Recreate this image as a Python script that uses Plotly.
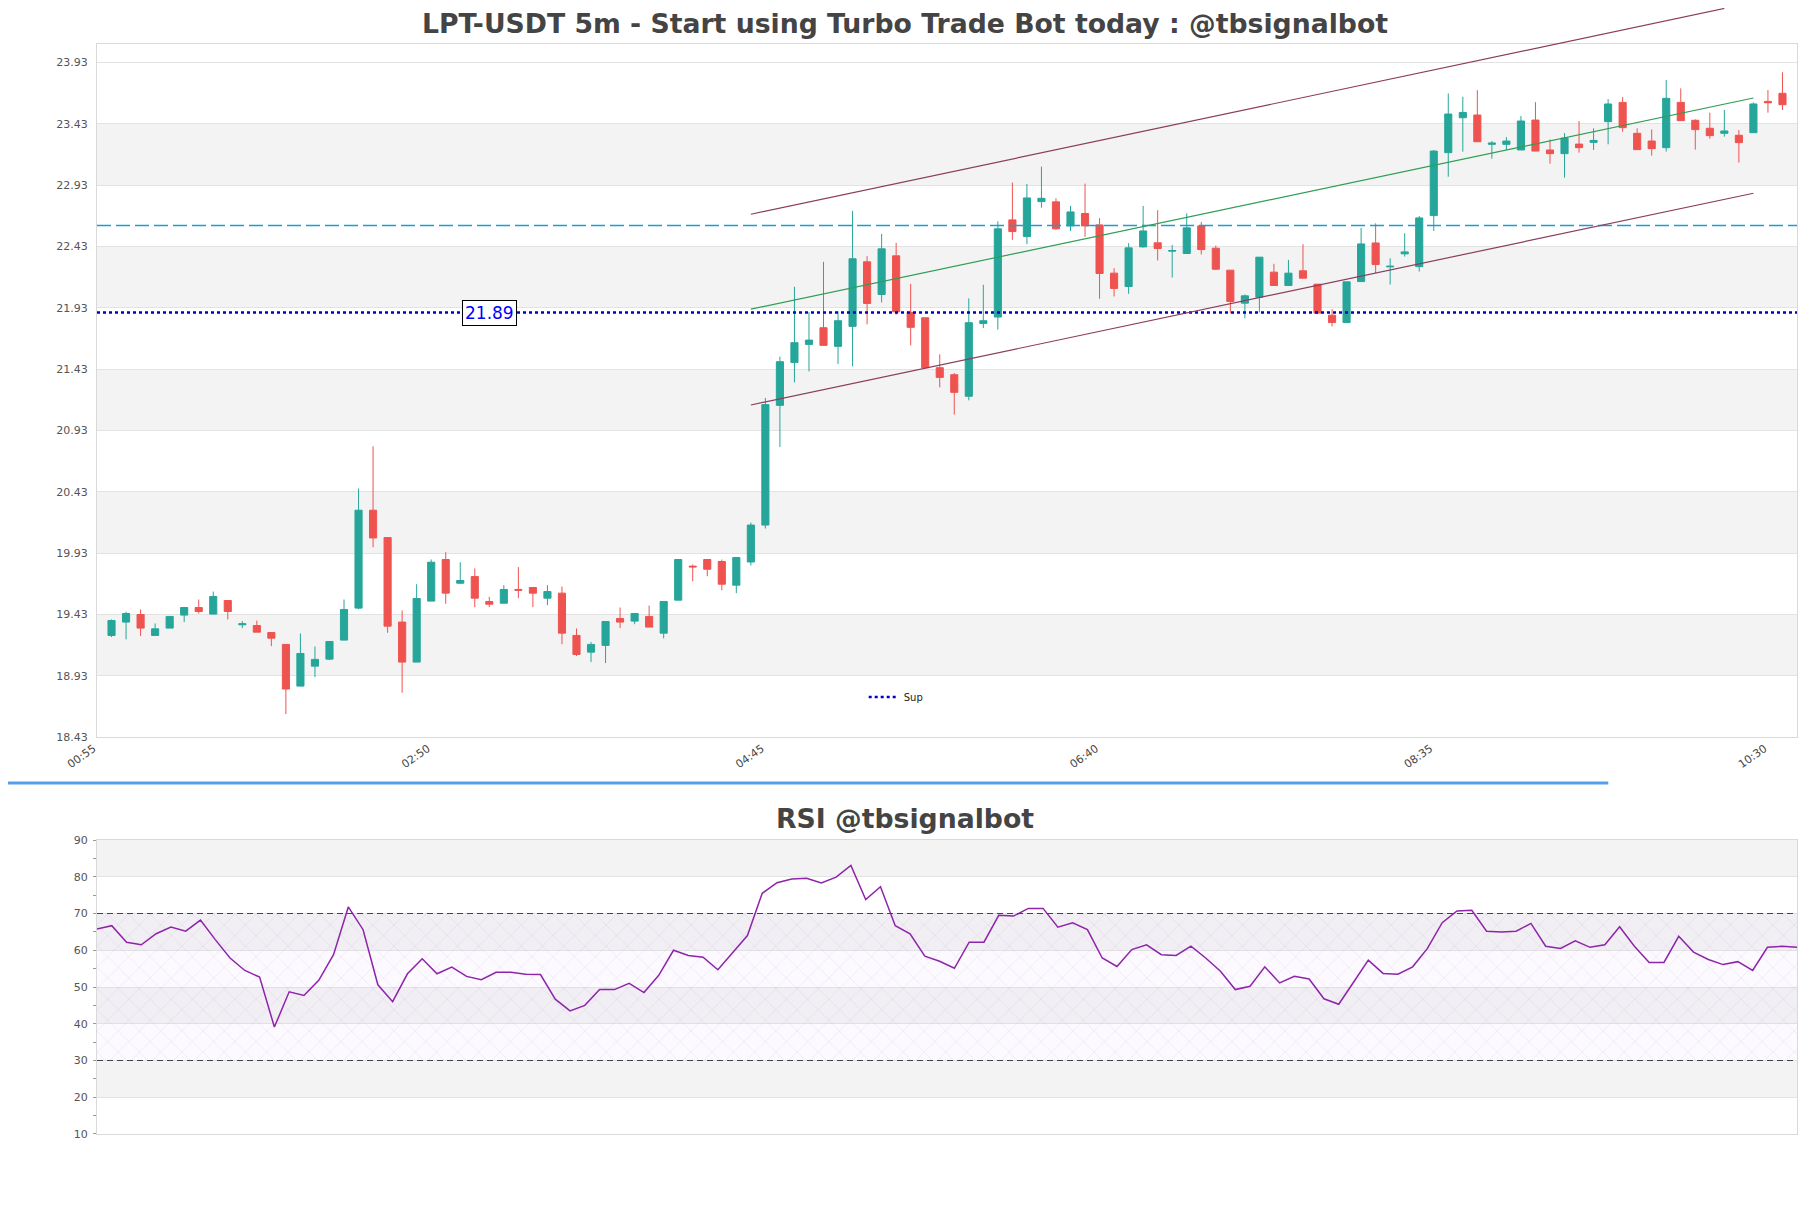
import pandas as pd
import plotly.graph_objects as go

# ---------------- data ----------------
start_time = "2024-01-01 00:55"
n_candles = 116
times = pd.date_range(start_time, periods=n_candles, freq="5min")

opens = [19.258, 19.367, 19.429, 19.258, 19.318, 19.424, 19.486, 19.432, 19.543, 19.345,
         19.339, 19.282, 19.185, 18.845, 19.008, 19.065, 19.220, 19.481, 20.279, 20.056,
         19.367, 19.041, 19.538, 19.877, 19.684, 19.738, 19.535, 19.521, 19.633, 19.649,
         19.562, 19.603, 19.258, 19.122, 19.177, 19.396, 19.375, 19.413, 19.277, 19.546,
         19.823, 19.877, 19.861, 19.668, 19.857, 20.158, 21.134, 21.484, 21.631, 21.767,
         21.615, 21.778, 22.304, 22.038, 22.353, 21.892, 21.848, 21.441, 21.384, 21.208,
         21.802, 21.854, 22.646, 22.511, 22.795, 22.793, 22.597, 22.698, 22.605, 22.212,
         22.103, 22.426, 22.459, 22.391, 22.372, 22.597, 22.415, 22.236, 21.967, 22.016,
         22.220, 22.111, 22.231, 22.122, 21.869, 21.809, 22.143, 22.458, 22.263, 22.369,
         22.265, 22.681, 23.194, 23.479, 23.501, 23.262, 23.262, 23.216, 23.460, 23.216,
         23.186, 23.264, 23.278, 23.447, 23.604, 23.352, 23.289, 23.235, 23.604, 23.458,
         23.393, 23.352, 23.336, 23.357, 23.612, 23.678]
highs = [19.388, 19.451, 19.470, 19.356, 19.413, 19.486, 19.551, 19.616, 19.543, 19.375,
         19.380, 19.282, 19.185, 19.274, 19.168, 19.209, 19.551, 20.455, 20.800, 20.056,
         19.462, 19.676, 19.877, 19.937, 19.855, 19.804, 19.573, 19.668, 19.815, 19.649,
         19.668, 19.657, 19.315, 19.204, 19.372, 19.486, 19.437, 19.502, 19.535, 19.877,
         19.836, 19.877, 19.877, 19.893, 20.178, 21.194, 21.531, 22.101, 21.894, 22.304,
         21.900, 22.720, 22.350, 22.532, 22.459, 22.125, 21.848, 21.550, 21.398, 22.006,
         22.117, 22.635, 22.950, 22.939, 23.080, 22.822, 22.760, 22.942, 22.660, 22.252,
         22.456, 22.760, 22.725, 22.442, 22.700, 22.630, 22.437, 22.236, 22.038, 22.342,
         22.288, 22.320, 22.448, 22.122, 21.918, 22.141, 22.580, 22.618, 22.333, 22.537,
         22.678, 23.216, 23.677, 23.650, 23.704, 23.289, 23.321, 23.492, 23.606, 23.302,
         23.354, 23.452, 23.392, 23.631, 23.648, 23.393, 23.384, 23.786, 23.718, 23.466,
         23.520, 23.542, 23.379, 23.604, 23.705, 23.849]
lows = [19.245, 19.226, 19.253, 19.258, 19.318, 19.367, 19.437, 19.432, 19.388, 19.318,
        19.285, 19.171, 18.617, 18.845, 18.919, 19.057, 19.220, 19.472, 19.977, 19.280,
        18.791, 19.041, 19.538, 19.516, 19.676, 19.489, 19.489, 19.521, 19.562, 19.489,
        19.505, 19.187, 19.090, 19.041, 19.033, 19.318, 19.350, 19.326, 19.234, 19.546,
        19.700, 19.741, 19.627, 19.603, 19.828, 20.130, 20.795, 21.322, 21.411, 21.623,
        21.471, 21.452, 21.794, 21.973, 21.873, 21.623, 21.441, 21.281, 21.058, 21.175,
        21.764, 21.751, 22.483, 22.448, 22.746, 22.565, 22.556, 22.508, 22.003, 22.022,
        22.043, 22.421, 22.315, 22.176, 22.372, 22.364, 22.236, 21.886, 21.843, 21.891,
        22.111, 22.111, 22.171, 21.878, 21.777, 21.809, 22.143, 22.211, 22.119, 22.347,
        22.225, 22.556, 22.998, 23.202, 23.283, 23.145, 23.216, 23.216, 23.207, 23.104,
        22.990, 23.194, 23.216, 23.262, 23.365, 23.219, 23.170, 23.203, 23.455, 23.219,
        23.308, 23.325, 23.113, 23.357, 23.520, 23.542]
closes = [19.380, 19.437, 19.318, 19.312, 19.413, 19.486, 19.453, 19.576, 19.453, 19.353,
          19.285, 19.236, 18.821, 19.111, 19.063, 19.209, 19.470, 20.279, 20.053, 19.334,
          19.041, 19.559, 19.855, 19.603, 19.706, 19.562, 19.513, 19.633, 19.627, 19.603,
          19.616, 19.277, 19.103, 19.185, 19.372, 19.367, 19.437, 19.326, 19.535, 19.877,
          19.817, 19.798, 19.676, 19.893, 20.158, 21.140, 21.490, 21.645, 21.666, 21.623,
          21.824, 22.329, 21.965, 22.410, 21.897, 21.770, 21.441, 21.362, 21.240, 21.808,
          21.824, 22.573, 22.551, 22.825, 22.822, 22.573, 22.711, 22.597, 22.209, 22.087,
          22.418, 22.556, 22.413, 22.396, 22.581, 22.404, 22.244, 21.981, 22.027, 22.342,
          22.111, 22.212, 22.171, 21.886, 21.809, 22.141, 22.450, 22.282, 22.268, 22.385,
          22.662, 23.207, 23.509, 23.522, 23.283, 23.273, 23.289, 23.452, 23.207, 23.186,
          23.313, 23.235, 23.294, 23.591, 23.398, 23.219, 23.227, 23.637, 23.455, 23.382,
          23.333, 23.371, 23.276, 23.591, 23.601, 23.585]

rsi = [65.8, 66.7, 62.2, 61.5, 64.5, 66.3, 65.2, 68.2, 62.9, 57.9,
       54.5, 52.7, 39.1, 48.7, 47.7, 51.8, 58.8, 71.8, 65.6, 50.6,
       46.0, 53.6, 57.7, 53.6, 55.4, 52.9, 52.0, 54.0, 54.0, 53.5,
       53.4, 46.7, 43.5, 45.0, 49.3, 49.3, 51.0, 48.5, 53.2, 60.0,
       58.6, 58.1, 54.7, 59.3, 64.0, 75.5, 78.4, 79.4, 79.6, 78.3,
       79.9, 83.1, 73.8, 77.3, 66.7, 64.5, 58.4, 57.0, 55.1, 62.2,
       62.2, 69.5, 69.3, 71.4, 71.4, 66.3, 67.5, 65.6, 57.9, 55.6,
       60.2, 61.5, 58.8, 58.6, 61.1, 57.9, 54.3, 49.3, 50.2, 55.5,
       51.1, 52.9, 52.2, 46.8, 45.3, 51.3, 57.3, 53.7, 53.5, 55.5,
       60.5, 67.5, 70.7, 70.9, 65.2, 65.0, 65.2, 67.3, 61.1, 60.5,
       62.6, 60.8, 61.5, 66.4, 61.1, 56.7, 56.7, 63.8, 59.5, 57.5,
       56.1, 56.9, 54.5, 60.8, 61.1, 60.8]

support_level = 21.89
resistance_level = 22.60

# channel lines: (start index, end index, start price, end price)
channel_upper = (44, 111, 22.692, 24.37)
channel_mid = (44, 113, 21.918, 23.640)
channel_lower = (44, 113, 21.137, 22.863)

price_ticks = [18.43, 18.93, 19.43, 19.93, 20.43, 20.93, 21.43, 21.93, 22.43, 22.93, 23.43, 23.93]
price_range = [18.43, 24.08]
rsi_ticks = [10, 20, 30, 40, 50, 60, 70, 80, 90]
rsi_levels = [30, 70]
xtick_step = 23

title_text = "LPT-USDT 5m - Start using Turbo Trade Bot today : @tbsignalbot"
rsi_title = "RSI @tbsignalbot"

# ---------------- layout constants ----------------
W, H = 1811, 1208
main_domain = [0.3642, 1.0]
rsi_domain = [0.0, 0.2697]
UP = "#26a69a"
DOWN = "#ef5350"
BAND = "#f3f3f3"
GRID = "#e3e3e3"
AXLINE = "#d9d9d9"
FONT = "DejaVu Sans"

pad = pd.Timedelta(minutes=5)
x_range = [times[0] - pad, times[-1] + pad]

fig = go.Figure()

fig.add_trace(go.Candlestick(
    x=times, open=opens, high=highs, low=lows, close=closes,
    increasing=dict(line=dict(color=UP, width=1), fillcolor=UP),
    decreasing=dict(line=dict(color=DOWN, width=1), fillcolor=DOWN),
    showlegend=False, xaxis="x", yaxis="y", name="LPT-USDT"))

fig.add_trace(go.Scatter(
    x=x_range, y=[support_level, support_level], mode="lines", name="Sup",
    line=dict(color="#0000c8", width=2.5, dash="dot"),
    xaxis="x", yaxis="y", showlegend=True))

# RSI band fill (30-70) with hatch pattern
fig.add_trace(go.Scatter(
    x=[times[0], times[-1]], y=[rsi_levels[0], rsi_levels[0]], mode="lines",
    line=dict(width=0), showlegend=False, xaxis="x2", yaxis="y2", hoverinfo="skip"))
fig.add_trace(go.Scatter(
    x=[times[0], times[-1]], y=[rsi_levels[1], rsi_levels[1]], mode="lines",
    line=dict(width=0), fill="tonexty", showlegend=False, xaxis="x2", yaxis="y2",
    fillcolor="rgba(150,90,190,0.05)",
    fillpattern=dict(shape="x", fgcolor="rgba(150,110,200,0.35)", bgcolor="rgba(200,170,225,0.06)",
                     size=15, solidity=0.08),
    hoverinfo="skip"))

fig.add_trace(go.Scatter(
    x=times, y=rsi, mode="lines", line=dict(color="#8e24aa", width=1.5),
    showlegend=False, xaxis="x2", yaxis="y2", name="RSI"))

# alternating background bands
for i in range(1, len(price_ticks) - 1, 2):
    fig.add_shape(type="rect", xref="x domain", yref="y", x0=0, x1=1,
                  y0=price_ticks[i], y1=price_ticks[i + 1],
                  fillcolor=BAND, line=dict(width=0), layer="below")
for i in range(1, len(rsi_ticks) - 1, 2):
    fig.add_shape(type="rect", xref="x2 domain", yref="y2", x0=0, x1=1,
                  y0=rsi_ticks[i], y1=rsi_ticks[i + 1],
                  fillcolor=BAND, line=dict(width=0), layer="below")

# resistance dashed line
fig.add_shape(type="line", xref="x domain", yref="y", x0=0, x1=1,
              y0=resistance_level, y1=resistance_level,
              line=dict(color="#169fd0", width=1.4, dash="14px,5px"))

# RSI 30/70 dashed lines
for lvl in rsi_levels:
    fig.add_shape(type="line", xref="x2 domain", yref="y2", x0=0, x1=1, y0=lvl, y1=lvl,
                  line=dict(color="#444444", width=1.2, dash="6px,4px"))


def price_to_paper(p):
    frac = (p - price_range[0]) / (price_range[1] - price_range[0])
    return main_domain[0] + frac * (main_domain[1] - main_domain[0])


for (i0, i1, p0, p1), col in [(channel_upper, "#8b3d5c"), (channel_mid, "#2f9e55"),
                              (channel_lower, "#8b3d5c")]:
    fig.add_shape(type="line", xref="x", yref="paper",
                  x0=times[i0], x1=times[i1], y0=price_to_paper(p0), y1=price_to_paper(p1),
                  line=dict(color=col, width=1.2))

# separator line between panels
fig.add_shape(type="line", xref="paper", yref="paper", x0=-0.053, x1=0.889, y0=0.322, y1=0.322,
              line=dict(color="#55a0ea", width=3))

# support label
fig.add_annotation(x=times[26], y=support_level, xref="x", yref="y", text="21.89",
                   showarrow=False, font=dict(color="#0000ff", size=17, family=FONT),
                   bgcolor="white", bordercolor="black", borderwidth=1, borderpad=2)

# RSI title
fig.add_annotation(x=0.4753, y=0.289, xref="paper", yref="paper", text="<b>%s</b>" % rsi_title,
                   showarrow=False, font=dict(size=26.7, color="#444444", family=FONT),
                   xanchor="center", yanchor="middle")

axis_common = dict(showline=True, mirror=True, linecolor=AXLINE, linewidth=1, zeroline=False)

fig.update_layout(
    width=W, height=H,
    margin=dict(l=89, r=22, t=36, b=82),
    paper_bgcolor="white", plot_bgcolor="white",
    font=dict(family=FONT, size=10, color="#444444"),
    title=dict(text="<b>%s</b>" % title_text, x=0.4953, xref="container", xanchor="center",
               y=1 - 16 / H, yanchor="middle", font=dict(size=26.7, color="#444444", family=FONT)),
    xaxis=dict(domain=[0, 1], anchor="y", type="date", range=x_range,
               rangeslider=dict(visible=False), showgrid=False,
               tickvals=list(times[::xtick_step]), tickformat="%H:%M", tickangle=-35,
               ticklabelshift=-18, tickfont=dict(size=11, color="#444444"), **axis_common),
    yaxis=dict(domain=main_domain, anchor="x", range=price_range, tick0=price_ticks[0], dtick=0.5,
               tickformat=".2f", showgrid=True, gridcolor=GRID, tickfont=dict(size=11, color="#555555"),
               ticklabelstandoff=6, **axis_common),
    xaxis2=dict(domain=[0, 1], anchor="y2", type="date", range=[times[0], times[-1]],
                showgrid=False, showticklabels=False, **axis_common),
    yaxis2=dict(domain=rsi_domain, anchor="x2", range=[rsi_ticks[0], rsi_ticks[-1]],
                tickvals=rsi_ticks, showgrid=True, gridcolor=GRID, ticks="outside", ticklen=3,
                tickcolor="#999999", minor=dict(dtick=5, ticks="outside", ticklen=3, tickcolor="#999999"),
                tickfont=dict(size=11, color="#555555"), ticklabelstandoff=3, **axis_common),
    legend=dict(x=0.451, y=0.401, xanchor="left", yanchor="middle", bgcolor="rgba(0,0,0,0)",
                font=dict(size=10, color="#222222")),
    showlegend=True,
)

fig.write_html("out.html")
